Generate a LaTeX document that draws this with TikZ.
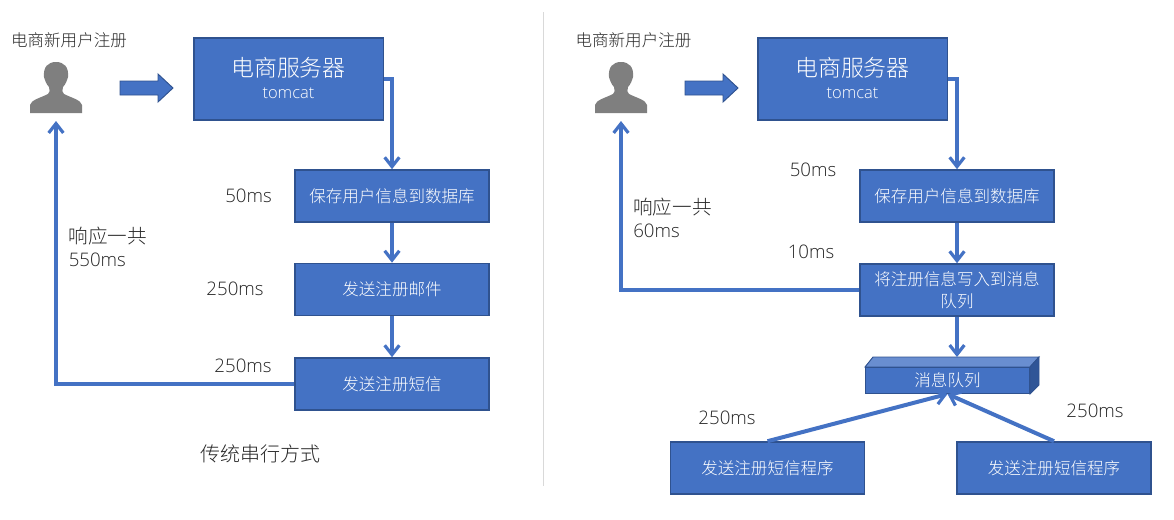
\documentclass[tikz,border=0pt]{standalone}
\usepackage{fontspec}
\setmainfont{Open Sans Light}[BoldFont=Open Sans]
\newfontfamily\cjk{Noto Sans CJK SC Light}
\usepackage{xcolor}
\usetikzlibrary{arrows.meta}
\definecolor{box-bg}{HTML}{4472C4}
\definecolor{box-line}{HTML}{2F528F}
\definecolor{mq-top}{HTML}{698ED0}
\definecolor{mq-side}{HTML}{2F5597}
\definecolor{user-gray}{HTML}{7F7F7F}
\definecolor{label-ink}{HTML}{262626}
\newcommand{\servertext}{{\fontsize{17.2}{22}\selectfont 电商服务器}\\[-0.75pt]{\normalfont\fontsize{12.4}{14}\selectfont tomcat\rule[-2pt]{0pt}{0pt}}}
\tikzset{
  bluebox/.style={draw=box-line, line width=1pt, fill=box-bg, text=white, align=center, inner sep=0pt, minimum width=145.4pt, minimum height=39.2pt, font=\fontsize{12.4}{17}\selectfont\cjk},
  serverbox/.style={bluebox, minimum width=142pt, minimum height=61.5pt},
  flow/.style={-{Straight Barb[length=7pt,width=11pt,line width=2.4pt]}, draw=box-bg, line width=3pt},
  timelabel/.style={text=label-ink, inner sep=0pt, font=\fontsize{14}{17}\selectfont},
  caption/.style={text=label-ink, inner sep=0pt, font=\fontsize{12.4}{16}\selectfont\cjk},
  usericon/.pic={
    \fill[user-gray] (-26,51) -- (-26,43) .. controls (-25,38) and (-16,36) .. (-8,32) .. controls (-6,31) and (-6,28) .. (-7,25) .. controls (-10,22) and (-11,18) .. (-12,15) .. controls (-13,5) and (-8,0) .. (0,0) .. controls (8,0) and (13,5) .. (12,15) .. controls (11,18) and (10,22) .. (7,25) .. controls (6,28) and (6,31) .. (8,32) .. controls (16,36) and (25,38) .. (26,43) -- (26,51) -- cycle;
  },
  bigarrow/.pic={
    \fill[box-bg, draw=box-line, line width=0.7pt] (0,-7) -- (38,-7) -- (38,-14) -- (53,0) -- (38,14) -- (38,7) -- (0,7) -- cycle;
  }
}

\begin{document}
\begin{tikzpicture}[x=0.75pt, y=-0.75pt]
    \useasboundingbox (0, 0) rectangle (1174, 519);
    % divider
    \draw[draw=black!15, line width=0.7pt] (543.5, 12) -- (543.5, 486);

    % serial side
    \node[caption] (titleL) at (69, 40) {电商新用户注册};
    \pic at (56, 62) {usericon};
    \coordinate (userL) at (56, 121);
    \pic at (120, 88) {bigarrow};
    \node[serverbox] (srvL) at (288.5, 79) {\servertext};
    \node[bluebox] (saveL) at (392, 196) {保存用户信息到数据库};
    \node[bluebox] (mailL) at (392, 289.5) {发送注册邮件};
    \node[bluebox] (smsL) at (392, 384) {发送注册短信};
    \node[timelabel] (t50L) at (248.5, 196) {50ms};
    \node[timelabel] (t250a) at (235, 289) {250ms};
    \node[timelabel] (t250b) at (243, 366) {250ms};
    \node[timelabel, align=left, anchor=west, font=\fontsize{14}{17.3}\selectfont] (respL) at (68.5, 247) {{\fontsize{14.7}{17.3}\selectfont\cjk 响应一共}\\550ms};
    \node[caption, font=\fontsize{15}{18}\selectfont\cjk] (modeL) at (260, 454) {传统串行方式};
    \draw[flow] (srvL.east) -| (saveL.north);
    \draw[flow] (saveL) -- (mailL);
    \draw[flow] (mailL) -- (smsL);
    \draw[flow] (smsL.west) -| (userL);

    % queue side
    \node[caption] (titleR) at (633.5, 40) {电商新用户注册};
    \pic at (621, 62) {usericon};
    \coordinate (userR) at (621, 121);
    \pic at (685, 88) {bigarrow};
    \node[serverbox] (srvR) at (852.5, 79) {\servertext};
    \node[bluebox] (saveR) at (957, 196) {保存用户信息到数据库};
    \node[bluebox] (writeR) at (957, 290) {将注册信息写入到消息\\队列};
    \fill[mq-top, draw=box-line, line width=0.7pt] (865, 367) -- (873, 357) -- (1039, 357) -- (1030, 367) -- cycle;
    \fill[mq-side, draw=box-line, line width=0.7pt] (1030, 367) -- (1039, 357) -- (1039, 385) -- (1030, 394) -- cycle;
    \node[bluebox, minimum width=123.5pt, minimum height=20pt, line width=0.8pt] (mq) at (947.5, 380.5) {消息队列};
    \coordinate (mqtop) at (957, 357);
    \coordinate (mqdown) at (947.5, 394);
    \node[bluebox] (smsA) at (767.5, 468) {发送注册短信程序};
    \node[bluebox] (smsB) at (1054, 468) {发送注册短信程序};
    \node[timelabel] (t50R) at (813, 170) {50ms};
    \node[timelabel] (t10R) at (811, 252) {10ms};
    \node[timelabel] (t250c) at (727, 418) {250ms};
    \node[timelabel] (t250d) at (1095, 411) {250ms};
    \node[timelabel, align=left, anchor=west, font=\fontsize{14}{17.3}\selectfont] (respR) at (633, 218) {{\fontsize{14.7}{17.3}\selectfont\cjk 响应一共}\\60ms};
    \draw[flow] (srvR.east) -| (saveR.north);
    \draw[flow] (saveR) -- (writeR);
    \draw[flow] (writeR.south) -- (mqtop);
    \draw[flow] (writeR.west) -| (userR);
    \draw[flow] (smsA.north) -- (mqdown);
    \draw[flow] (smsB.north) -- (mqdown);
  \end{tikzpicture}
\end{document}
